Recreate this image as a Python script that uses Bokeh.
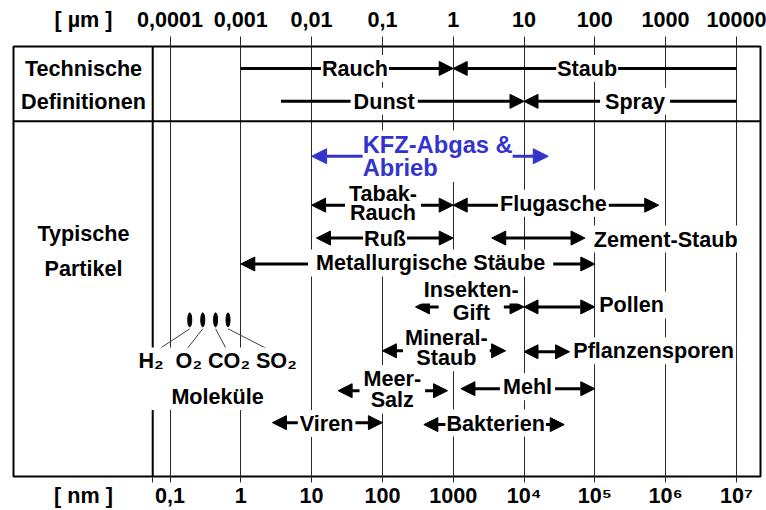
from bokeh.plotting import figure
from bokeh.models import (ColumnDataSource, Range1d, LogScale, LogAxis, FixedTicker,
                          Arrow, NormalHead, Span)
from bokeh.core.properties import value
from bokeh.embed import file_html
from bokeh.resources import INLINE

FONT = "Liberation Sans"
BLUE = "#3434CC"
GRID = "#2a2a2a"
FS = "21.6px"

# ---------------- data ----------------
# decades of the lower axis (nm) and of the upper axis (µm)
DECADES_NM = [0.1, 1, 10, 100, 1000, 1e4, 1e5, 1e6, 1e7]
NM_TICK_LABELS = ["0,1", "1", "10", "100", "1000", "10⁴", "10⁵", "10⁶", "10⁷"]
DECADES_UM = [1e-4, 1e-3, 0.01, 0.1, 1, 10, 100, 1000, 1e4]
UM_TICK_LABELS = ["0,0001", "0,001", "0,01", "0,1", "1", "10", "100", "1000", "10000"]
NM_CAPTION = "[ nm ]"
UM_CAPTION = "[ µm ]"

# Technische Definitionen (one arrow head, at the tip), sizes in nm
TECH_NAMES = ["Rauch", "Staub", "Dunst", "Spray"]
TECH_TAIL_NM = [1, 1e7, 3.7, 1e7]
TECH_TIP_NM = [1000, 1000, 1e4, 1e4]
TECH_LABEL_NM = [41, 78000, 106, 370000]

# Typische Partikel (two arrow heads), sizes in nm
PART_NAMES = ["Tabak-\nRauch", "Flugasche", "Ruß", "Zement-Staub",
              "Metallurgische Stäube", "Insekten-\nGift", "Pollen",
              "Mineral-\nStaub", "Pflanzensporen", "Meer-\nSalz", "Mehl",
              "Viren", "Bakterien"]
PART_FROM_NM = [10, 1000, 11.7, 3500, 1, 293, 1e4, 100, 1e4, 23.7, 1285, 2.8, 385]
PART_TO_NM = [1000, 8e5, 1000, 72800, 1e5, 1e4, 1e5, 5500, 44000, 832, 1e5, 100, 37000]
PART_LABEL_NM = [102, 26000, 109, 90400, 480, 1800, 1.08e5, 800, 46500, 138, 11200, 16.3, 3980]

# KFZ-Abgas & Abrieb (blue)
KFZ_NAME = "KFZ-Abgas &\nAbrieb"
KFZ_FROM_NM = [10]
KFZ_TO_NM = [22000]
KFZ_LABEL_NM = [52.6]

# Moleküle
MOLECULE_TEXT = "H₂\u00a0 O₂ CO₂ SO₂\nMoleküle"
MOLECULE_NM = [0.19, 0.29, 0.44, 0.66]
MOLECULE_LABEL_NM = [0.061, 0.161, 0.656, 2.84]
MOLECULE_TEXT_NM = 0.47

SECTION_NAMES = ["Technische", "Definitionen", "Typische", "Partikel"]

# ---------------- layout (rows in reference pixel units: top = 46, bottom = 477) ----------------
Y_TOP, Y_BOTTOM = 46, 477
SECTION_SPLIT_Y = 121
DIVIDER_NM = 0.057
LEFT_COL_NM = 0.006
LEFT_COL_UM = LEFT_COL_NM / 1000
TECH_ROW = [68, 68, 101, 101]
TECH_PAD = [1, 1, 3, 5]
PART_ROW = [205, 205, 238, 238, 264, 307, 307, 351, 352, 391, 389, 423, 425]
PART_LABEL_ROW = [203, 203, 238, 239, 263, [290, 313], 305, 348, 351, 389.5, 387, 424, 423.5]
PART_LINE_HEIGHT = [0.75, 1.0, 1.0, 1.0, 1.0, 1.0, 1.0, 0.8, 1.0, 0.86, 1.0, 1.0, 1.0]
PART_ALIGN = ["center", "center", "center", "left", "center", "center", "left",
              "center", "left", "center", "center", "center", "center"]
PART_PAD = [4, 2, 1, 2, 8, [3, 14], 2, 2, 2, 4, 3, 2, 1]
KFZ_ROW = [156]
MOLECULE_ROW = 320
MOLECULE_LINE_TOP = 329
MOLECULE_LINE_BOTTOM = 352
MOLECULE_TEXT_ROW = 379
SECTION_ROW = [68, 101, 233, 269]

X_START = 10 ** -3.2105
X_END = 10 ** 7.3404

p = figure(width=766, height=510, x_axis_type="log", y_axis_location=None,
           x_range=Range1d(X_START, X_END), y_range=Range1d(Y_BOTTOM, Y_TOP),
           output_backend="svg", toolbar_location=None,
           min_border_left=13, min_border_right=6, min_border_top=46, min_border_bottom=33)
p.outline_line_color = "black"
p.outline_line_width = 2
p.background_fill_color = "white"
p.border_fill_color = "white"

# grid at the decades
p.xgrid.ticker = FixedTicker(ticks=DECADES_NM)
p.xgrid.grid_line_color = GRID
p.xgrid.grid_line_width = 1
p.ygrid.grid_line_color = None


def tick_axis(axis, ticks, tick_out):
    axis.ticker = FixedTicker(ticks=ticks, minor_ticks=[])
    axis.axis_line_color = None
    axis.major_tick_in = 0
    axis.major_tick_out = tick_out
    axis.major_tick_line_color = GRID
    axis.minor_tick_line_color = None
    axis.major_label_standoff = 0
    axis.major_label_text_font_size = "1px"
    axis.major_label_text_color = None


def label_axis(axis, ticks, labels, standoff):
    axis.ticker = FixedTicker(ticks=ticks, minor_ticks=[])
    axis.major_label_overrides = dict(zip(ticks, labels))
    axis.axis_line_color = None
    axis.major_tick_in = 0
    axis.major_tick_out = 0
    axis.major_tick_line_color = None
    axis.minor_tick_line_color = None
    axis.major_label_standoff = standoff
    axis.major_label_text_font = FONT
    axis.major_label_text_font_style = "bold"
    axis.major_label_text_font_size = FS
    axis.major_label_text_color = "black"


# lower axis (nm): tick marks, then labels
tick_axis(p.xaxis[0], [DIVIDER_NM] + DECADES_NM, 6)
nm_labels = LogAxis()
label_axis(nm_labels, [LEFT_COL_NM] + DECADES_NM, [NM_CAPTION] + NM_TICK_LABELS, 0)
p.add_layout(nm_labels, "below")

# upper axis (µm)
p.extra_x_ranges = {"um": Range1d(X_START / 1000, X_END / 1000)}
p.extra_x_scales = {"um": LogScale()}
um_ticks = LogAxis(x_range_name="um")
tick_axis(um_ticks, DECADES_UM, 10)
p.add_layout(um_ticks, "above")
um_labels = LogAxis(x_range_name="um")
label_axis(um_labels, [LEFT_COL_UM] + DECADES_UM, [UM_CAPTION] + UM_TICK_LABELS, 5)
p.add_layout(um_labels, "above")

# table dividers
p.add_layout(Span(location=SECTION_SPLIT_Y, dimension="width", line_color="black",
                  line_width=2, level="glyph"))
p.add_layout(Span(location=DIVIDER_NM, dimension="height", line_color="black",
                  line_width=2, level="glyph"))


# arrows
def head(color, size=14):
    return NormalHead(size=size, fill_color=color, line_color=color, line_width=1)


tech_src = ColumnDataSource(dict(x0=TECH_TAIL_NM, x1=TECH_TIP_NM, y=TECH_ROW))
p.add_layout(Arrow(x_start="x0", y_start="y", x_end="x1", y_end="y", source=tech_src,
                   start=None, end=head("black"), line_width=3, line_color="black",
                   level="glyph"))

part_src = ColumnDataSource(dict(x0=PART_FROM_NM, x1=PART_TO_NM, y=PART_ROW))
p.add_layout(Arrow(x_start="x0", y_start="y", x_end="x1", y_end="y", source=part_src,
                   start=head("black"), end=head("black"), line_width=3, line_color="black",
                   level="glyph"))

kfz_src = ColumnDataSource(dict(x0=KFZ_FROM_NM, x1=KFZ_TO_NM, y=KFZ_ROW))
p.add_layout(Arrow(x_start="x0", y_start="y", x_end="x1", y_end="y", source=kfz_src,
                   start=head(BLUE, 15), end=head(BLUE, 15), line_width=3, line_color=BLUE,
                   level="glyph"))

# molecules
p.segment(x0=MOLECULE_NM, y0=[MOLECULE_LINE_TOP] * 4, x1=MOLECULE_LABEL_NM,
          y1=[MOLECULE_LINE_BOTTOM] * 4, line_color="#404040", line_width=1)
p.ellipse(x=MOLECULE_NM, y=[MOLECULE_ROW] * 4, width=4, height=14,
          width_units="screen", height_units="screen", fill_color="black", line_color="black")


# labels
def put_text(x, y, text, size=FS, align="center", pad=2, line_height=1.0,
             color="black", bg="white"):
    src = ColumnDataSource(dict(x=[x], y=[y], t=[text]))
    kw = dict(background_fill_color=bg, padding=(pad, 1)) if bg else {}
    p.text(x="x", y="y", text="t", source=src, text_font=value(FONT),
           text_font_style="bold", text_font_size=size, text_color=color,
           text_align=align, text_baseline="middle", text_line_height=line_height,
           level="annotation", **kw)


for name, x, y, pad in zip(TECH_NAMES, TECH_LABEL_NM, TECH_ROW, TECH_PAD):
    put_text(x, y, name, pad=pad)

for name, x, y, lh, al, pad in zip(PART_NAMES, PART_LABEL_NM, PART_LABEL_ROW,
                                   PART_LINE_HEIGHT, PART_ALIGN, PART_PAD):
    if isinstance(y, list):
        for line, yy, pp in zip(name.split("\n"), y, pad):
            put_text(x, yy, line, align=al, pad=pp)
    else:
        put_text(x, y, name, align=al, pad=pad, line_height=lh)

put_text(KFZ_LABEL_NM[0], KFZ_ROW[0], KFZ_NAME, size="23.7px", align="left", pad=0,
         line_height=0.9, color=BLUE)

put_text(MOLECULE_TEXT_NM, MOLECULE_TEXT_ROW, MOLECULE_TEXT, pad=2, line_height=1.42)

for name, y in zip(SECTION_NAMES, SECTION_ROW):
    put_text(LEFT_COL_NM, y, name, bg=None)

open("out.html", "w").write(file_html(p, INLINE))
